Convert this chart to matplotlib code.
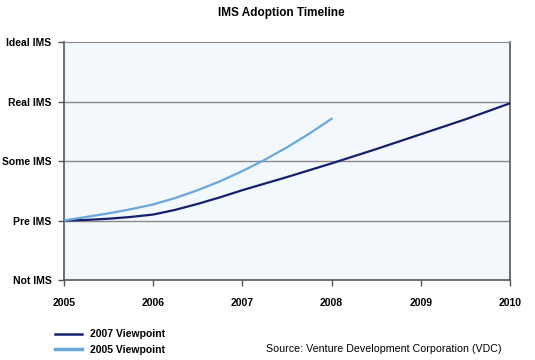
import matplotlib

matplotlib.use("Agg")
import matplotlib.pyplot as plt
from matplotlib.lines import Line2D

plt.rcParams["font.family"] = ["Liberation Sans", "DejaVu Sans"]

# --- Data ---
level_labels = ["Not IMS", "Pre IMS", "Some IMS", "Real IMS", "Ideal IMS"]
years = [2005, 2006, 2007, 2008, 2009, 2010]

years_2007 = [2005, 2005.25, 2005.5, 2005.75, 2006, 2006.25, 2006.5, 2006.75, 2007,
              2007.5, 2008, 2008.5, 2009, 2009.5, 2010]
level_2007 = [1.0, 1.01, 1.03, 1.06, 1.10, 1.18, 1.28, 1.39, 1.51,
              1.73, 1.96, 2.20, 2.45, 2.70, 2.97]

years_2005 = [2005, 2005.25, 2005.5, 2005.75, 2006, 2006.25, 2006.5, 2006.75,
              2007, 2007.25, 2007.5, 2007.75, 2008]
level_2005 = [1.0, 1.06, 1.12, 1.19, 1.27, 1.38, 1.51, 1.66,
              1.83, 2.02, 2.23, 2.46, 2.71]

dark = "#14206e"
light = "#6aa8dc"

fig = plt.figure(figsize=(5.35, 3.6), dpi=100)
ax = fig.add_axes([0.1196, 0.2222, 0.8336, 0.6611])
ax.set_facecolor("#f3f8fd")

for y in range(1, 4):
    ax.axhline(y, color="#8a8a8a", lw=1, zorder=1)

ax.plot(years_2007, level_2007, color=dark, lw=1.6, zorder=3)
ax.plot(years_2005, level_2005, color=light, lw=1.6, zorder=3)

ax.set_xlim(2005, 2010)
ax.set_ylim(0, 4)
ax.set_xticks(years)
ax.set_xticklabels([str(y) for y in years], fontsize=7.5, fontweight="bold")
ax.set_yticks(range(len(level_labels)))
ax.set_yticklabels(level_labels, fontsize=7.5, fontweight="bold")
ax.tick_params(axis="both", length=4, width=1, color="#555555", pad=5)
ax.tick_params(axis="x", pad=9)

for side in ["left", "bottom", "right"]:
    ax.spines[side].set_color("#555555")
    ax.spines[side].set_linewidth(1.2)
ax.spines["top"].set_color("#8a8a8a")

fig.text(0.525, 0.965, "IMS Adoption Timeline", ha="center", va="center",
         fontsize=8.5, fontweight="bold")

handles = [Line2D([], [], color=dark, lw=1.8), Line2D([], [], color=light, lw=2.5)]
fig.legend(handles, ["2007 Viewpoint", "2005 Viewpoint"], loc="lower left",
           bbox_to_anchor=(0.085, -0.012), frameon=False, handlelength=2.6,
           prop={"size": 7.5, "weight": "bold"}, labelspacing=0.55)

fig.text(0.938, 0.03, "Source: Venture Development Corporation (VDC)",
         ha="right", va="center", fontsize=7.7)

fig.savefig("out.png", dpi=100)
